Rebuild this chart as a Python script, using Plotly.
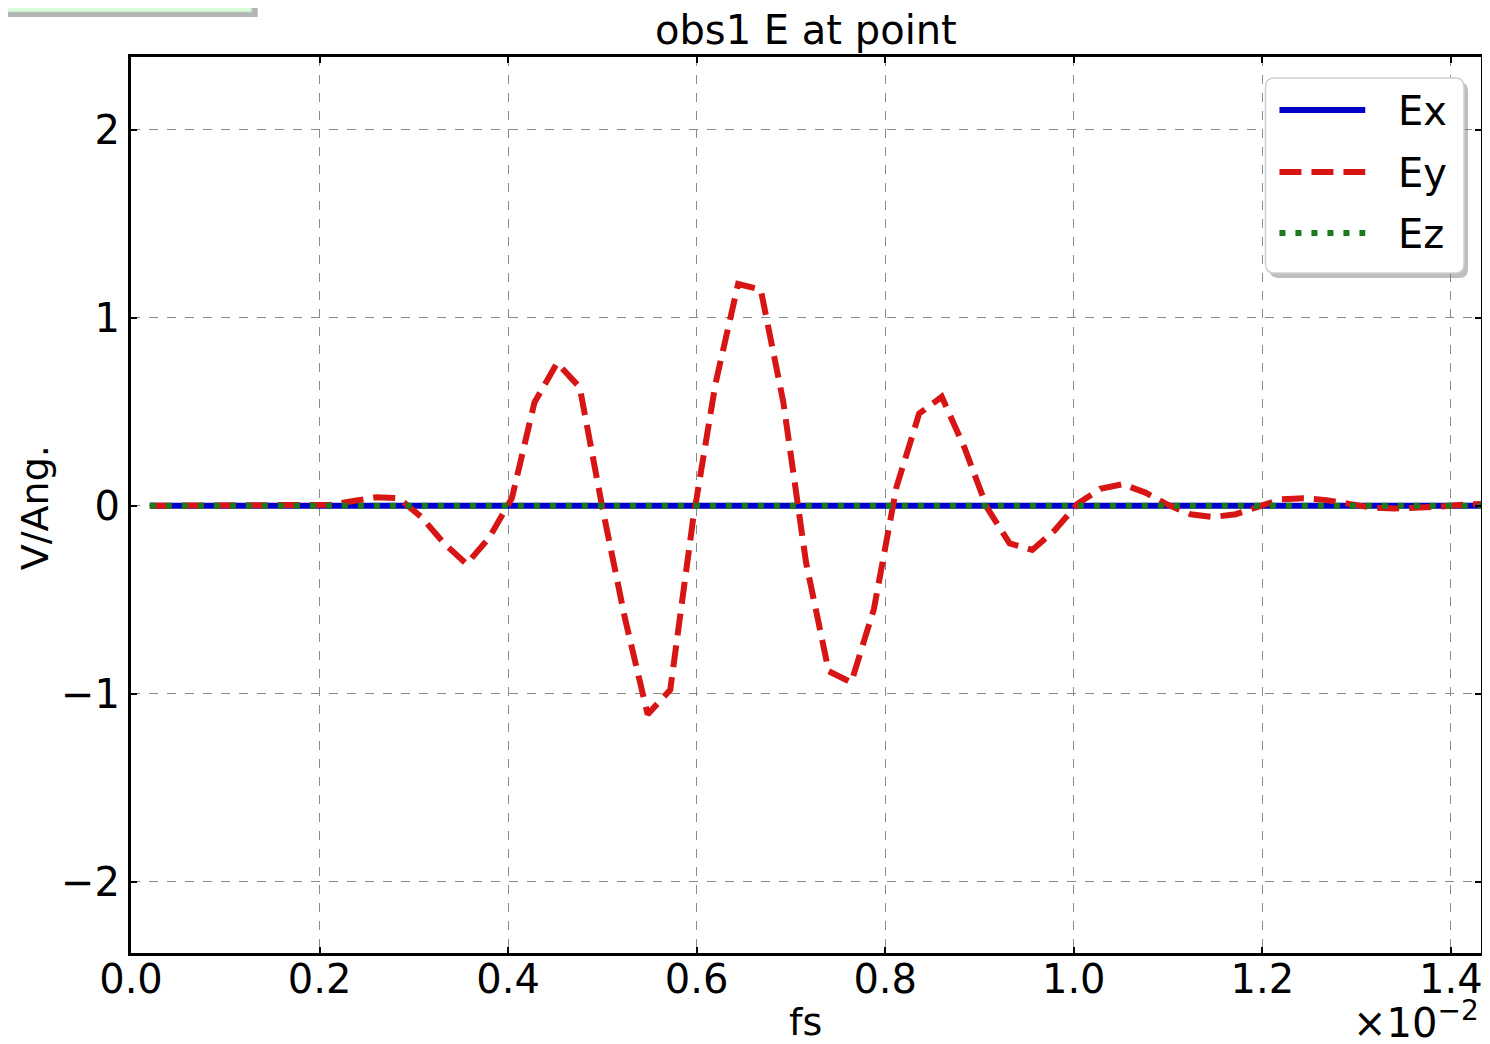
import plotly.graph_objects as go

# ---------------- data (x in units of 1e-2 fs, y in V/Ang.) ----------------
t = [0.020, 0.044, 0.068, 0.092, 0.116, 0.140, 0.164, 0.188, 0.212, 0.236,
     0.260, 0.284, 0.308, 0.332, 0.356, 0.380, 0.404, 0.428, 0.452, 0.476,
     0.500, 0.524, 0.548, 0.572, 0.596, 0.620, 0.644, 0.668, 0.692, 0.716,
     0.740, 0.764, 0.788, 0.812, 0.836, 0.860, 0.884, 0.908, 0.932, 0.956,
     0.980, 1.004, 1.028, 1.052, 1.076, 1.100, 1.124, 1.148, 1.172, 1.196,
     1.220, 1.244, 1.268, 1.292, 1.316, 1.340, 1.364, 1.388, 1.412, 1.436]

Ey = [0.0, 0.0, 0.0, 0.0, 0.0, 0.0, 0.0, 0.0, 0.005, 0.025,
      0.045, 0.04, -0.06, -0.20, -0.31, -0.17, 0.04, 0.55, 0.76, 0.63,
      -0.01, -0.60, -1.11, -0.98, -0.08, 0.65, 1.18, 1.15, 0.55, -0.30,
      -0.88, -0.94, -0.55, 0.10, 0.49, 0.58, 0.31, -0.01, -0.20, -0.235,
      -0.13, 0.01, 0.09, 0.115, 0.07, 0.005, -0.045, -0.06, -0.045, -0.005,
      0.035, 0.04, 0.03, 0.01, -0.01, -0.015, -0.012, -0.005, 0.005, 0.01]

Ex = [0.0] * len(t)
Ez = [0.0] * len(t)

series_names = ["Ex", "Ey", "Ez"]
x_tickvals = [0.0, 0.2, 0.4, 0.6, 0.8, 1.0, 1.2, 1.4]
x_ticktext = ["0.0", "0.2", "0.4", "0.6", "0.8", "1.0", "1.2", "1.4"]
y_tickvals = [-2, -1, 0, 1, 2]
y_ticktext = ["\u22122", "\u22121", "0", "1", "2"]

# ---------------- styling ----------------
# the page body has an 8px margin, so the figure is made 8px smaller
OFF = 8
W, H = 1490 - OFF, 1044 - OFF
L, R, T, B = 131 - OFF, 6, 57 - OFF, 91
FONT = "DejaVu Sans"
C_BLUE = "#0000c8"
C_RED = "#d81515"
C_GREEN = "#1c7a1c"
LW = 6

PW = W - L - R     # plot width in px
PH = H - T - B     # plot height in px


def px(xp):
    # reference-picture pixel x -> paper x
    return (xp - OFF - L) / PW


def py(yp):
    # reference-picture pixel y -> paper y
    return (H - B - (yp - OFF)) / PH


fig = go.Figure()
fig.add_trace(go.Scatter(x=t, y=Ex, mode="lines", name=series_names[0],
                         line=dict(color=C_BLUE, width=LW), showlegend=False))
fig.add_trace(go.Scatter(x=t, y=Ey, mode="lines", name=series_names[1],
                         line=dict(color=C_RED, width=LW, dash="22px,10px"),
                         showlegend=False))
fig.add_trace(go.Scatter(x=t, y=Ez, mode="lines", name=series_names[2],
                         line=dict(color=C_GREEN, width=LW, dash="6px,10px"),
                         showlegend=False))

axis_common = dict(
    showline=True, linecolor="black", linewidth=3, mirror="allticks",
    ticks="inside", ticklen=6, tickwidth=2, tickcolor="black",
    showgrid=True, gridcolor="#8a8a8a", gridwidth=1, griddash="dash",
    zeroline=False, tickfont=dict(family=FONT, size=40, color="black"),
)

fig.update_xaxes(range=[0, 1.432], tickmode="array", tickvals=x_tickvals,
                 ticktext=x_ticktext, ticklabelstandoff=-11, **axis_common)
fig.update_yaxes(range=[-2.38, 2.388], tickmode="array", tickvals=y_tickvals,
                 ticktext=y_ticktext, **axis_common)

shapes = []
# top-left green box (partially visible) with shadow
shapes.append(dict(type="rect", xref="paper", yref="paper",
                   x0=px(4), x1=px(258), y0=py(-5), y1=py(17),
                   fillcolor="rgba(120,120,120,0.55)", line=dict(width=0),
                   layer="above"))
shapes.append(dict(type="rect", xref="paper", yref="paper",
                   x0=px(-2), x1=px(252), y0=py(-5), y1=py(12),
                   fillcolor="#d9fcd9", line=dict(color="#bcd8bc", width=1),
                   layer="above"))


def rounded_path(x0, y0, x1, y1, r):
    pts = [
        f"M {px(x0 + r)},{py(y0)}",
        f"L {px(x1 - r)},{py(y0)}",
        f"Q {px(x1)},{py(y0)} {px(x1)},{py(y0 + r)}",
        f"L {px(x1)},{py(y1 - r)}",
        f"Q {px(x1)},{py(y1)} {px(x1 - r)},{py(y1)}",
        f"L {px(x0 + r)},{py(y1)}",
        f"Q {px(x0)},{py(y1)} {px(x0)},{py(y1 - r)}",
        f"L {px(x0)},{py(y0 + r)}",
        f"Q {px(x0)},{py(y0)} {px(x0 + r)},{py(y0)}",
        "Z",
    ]
    return " ".join(pts)


# legend box with shadow
shapes.append(dict(type="path", xref="paper", yref="paper",
                   path=rounded_path(1272, 82, 1471, 278, 9),
                   fillcolor="rgba(110,110,110,0.45)", line=dict(width=0),
                   layer="above"))
shapes.append(dict(type="path", xref="paper", yref="paper",
                   path=rounded_path(1268, 78, 1467, 273, 9),
                   fillcolor="white", line=dict(color="#cfcfcf", width=1.5),
                   layer="above"))

leg_rows = [110, 172, 233]
leg_styles = [dict(color=C_BLUE, width=LW, dash="solid"),
              dict(color=C_RED, width=LW, dash="22px,10px"),
              dict(color=C_GREEN, width=LW, dash="6px,10px")]
for yrow, st in zip(leg_rows, leg_styles):
    shapes.append(dict(type="line", xref="paper", yref="paper",
                       x0=px(1282), x1=px(1368), y0=py(yrow), y1=py(yrow),
                       line=st, layer="above"))

annotations = []
for yrow, name in zip(leg_rows, series_names):
    annotations.append(dict(xref="paper", yref="paper", x=px(1399), y=py(yrow + 1),
                            xanchor="left", yanchor="middle", text=name,
                            showarrow=False,
                            font=dict(family=FONT, size=40, color="black")))

annotations.append(dict(xref="paper", yref="paper", x=px(807), y=py(30),
                        xanchor="center", yanchor="middle",
                        text="obs1 E at point", showarrow=False,
                        font=dict(family=FONT, size=40, color="black")))
annotations.append(dict(xref="paper", yref="paper", x=px(807), y=py(1022),
                        xanchor="center", yanchor="middle", text="fs",
                        showarrow=False,
                        font=dict(family=FONT, size=38, color="black")))
annotations.append(dict(xref="paper", yref="paper", x=px(35), y=py(508),
                        xanchor="center", yanchor="middle", text="V/Ang.",
                        textangle=-90, showarrow=False,
                        font=dict(family=FONT, size=38, color="black")))
annotations.append(dict(xref="paper", yref="paper", x=px(1484), y=py(1020),
                        xanchor="right", yanchor="middle",
                        text="\u00d710<sup>\u22122</sup>", showarrow=False,
                        font=dict(family=FONT, size=40, color="black")))

fig.update_layout(
    width=W, height=H,
    margin=dict(l=L, r=R, t=T, b=B, pad=0),
    paper_bgcolor="white", plot_bgcolor="white",
    showlegend=False,
    shapes=shapes, annotations=annotations,
    font=dict(family=FONT, color="black"),
)

fig.write_html("out.html")
